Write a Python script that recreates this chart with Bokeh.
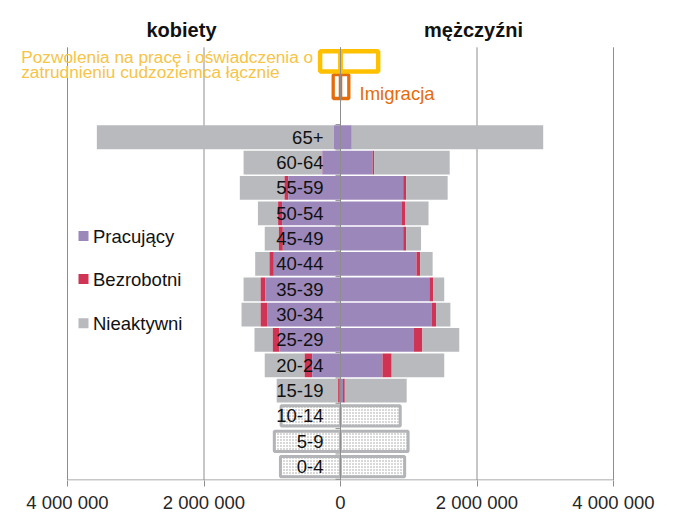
from bokeh.plotting import figure
from bokeh.models import FixedTicker, Range1d
from bokeh.core.properties import value
from bokeh.embed import file_html
from bokeh.resources import INLINE

# ---------------- data ----------------
ages = ["0-4", "5-9", "10-14", "15-19", "20-24", "25-29", "30-34", "35-39",
        "40-44", "45-49", "50-54", "55-59", "60-64", "65+"]

# women (kobiety)
women_prac = [0, 0, 0, 10000, 415000, 893000, 1076000, 1098000, 977000, 845000, 856000, 766000, 265000, 100000]
women_bezr = [0, 0, 0, 25000, 110000, 99000, 94000, 72000, 63000, 58000, 58000, 54000, 5000, 0]
women_niea = [0, 0, 0, 900000, 585000, 268000, 280000, 250000, 210000, 207000, 296000, 655000, 1150000, 3470000]
# men (mężczyźni)
men_prac = [0, 0, 0, 37000, 615000, 1077000, 1333000, 1302000, 1113000, 919000, 893000, 919000, 470000, 160000]
men_bezr = [0, 0, 0, 26000, 135000, 123000, 67000, 58000, 53000, 42000, 52000, 42000, 22000, 5000]
men_niea = [0, 0, 0, 907000, 770000, 540000, 210000, 160000, 184000, 219000, 345000, 609000, 1108000, 2805000]

# children (dotted bars)
child_ages = ["0-4", "5-9", "10-14"]
women_child = [880000, 970000, 870000]
men_child = [940000, 990000, 875000]

# immigration & work permits
imm_women, imm_men = 107000, 122000
perm_women, perm_men = 299000, 552000

legend_labels = ["Pracujący", "Bezrobotni", "Nieaktywni"]
titles = ["kobiety", "mężczyźni"]
perm_label = ["Pozwolenia na pracę i oświadczenia o", "zatrudnieniu cudzoziemca łącznie"]
imm_label = "Imigracja"

ticks = [-4000000, -2000000, 0, 2000000, 4000000]
tick_labels = ["4 000 000", "2 000 000", "0", "2 000 000", "4 000 000"]

# ---------------- styles ----------------
C_PRAC = "#9C87BA"
C_BEZR = "#CF3455"
C_NIEA = "#B8BABD"
C_GRID = "#8E8E8E"
C_PERM = "#FFC000"
C_PERM_TXT = "#F6C447"
C_IMM = "#E46C0A"
FONT = value("Liberation Sans")

W, H = 660, 515
PX = 2000000 / 136.5      # data units per pixel (horizontal)
ROW = 25.6                # pixels per category row


def xd(px):
    return (px - 340) * PX


def yd(py):
    return (471 - py) / ROW


n = len(ages)
rows = list(range(n))
row_imm = n + 1
row_perm = n + 2

p = figure(width=W, height=H, output_backend="svg", toolbar_location=None,
           x_range=Range1d(xd(0), xd(W)), y_range=Range1d(yd(485), yd(0)),
           min_border_left=0, min_border_right=0, min_border_top=0, min_border_bottom=30,
           y_axis_location=None)
p.outline_line_color = None
p.grid.visible = False
p.background_fill_color = "white"
p.border_fill_color = "white"

# x axis
ax = p.xaxis[0]
ax.ticker = FixedTicker(ticks=ticks)
ax.major_label_overrides = {t: l for t, l in zip(ticks, tick_labels)}
ax.axis_line_color = None
ax.major_tick_line_color = C_GRID
ax.major_tick_out = 6
ax.major_tick_in = 0
ax.minor_tick_line_color = None
ax.major_label_standoff = 5
ax.major_label_text_font = "Liberation Sans"
ax.major_label_text_font_size = "18.5px"
ax.major_label_text_color = "#262626"

# gridlines (manual, limited height) and axis line
grid_top = row_perm + 0.55
y_bot = yd(484.5)
p.segment(x0=ticks, x1=ticks, y0=[y_bot] * len(ticks), y1=[grid_top] * len(ticks),
          line_color=C_GRID, line_width=1)
p.segment(x0=[ticks[0]], x1=[ticks[-1]], y0=[y_bot], y1=[y_bot], line_color=C_GRID, line_width=1)

# stacked bars
BH = 0.94
wp = women_prac
wb = [a + b for a, b in zip(women_prac, women_bezr)]
wn = [a + b for a, b in zip(wb, women_niea)]
mp = men_prac
mb = [a + b for a, b in zip(men_prac, men_bezr)]
mn = [a + b for a, b in zip(mb, men_niea)]

p.hbar(y=rows, left=[-v for v in wn], right=[-v for v in wb], height=BH, fill_color=C_NIEA, line_color=None)
p.hbar(y=rows, left=[-v for v in wb], right=[-v for v in wp], height=BH, fill_color=C_BEZR, line_color=None)
p.hbar(y=rows, left=[-v for v in wp], right=[0] * n, height=BH, fill_color=C_PRAC, line_color=None)
p.hbar(y=rows, left=[0] * n, right=mp, height=BH, fill_color=C_PRAC, line_color=None)
p.hbar(y=rows, left=mp, right=mb, height=BH, fill_color=C_BEZR, line_color=None)
p.hbar(y=rows, left=mb, right=mn, height=BH, fill_color=C_NIEA, line_color=None)

# children dotted bars
child_rows = [ages.index(a) for a in child_ages]
for side, vals in ((-1, women_child), (1, men_child)):
    left = [min(0, side * v) for v in vals]
    right = [max(0, side * v) for v in vals]
    p.hbar(y=child_rows, left=left, right=right, height=0.8,
           fill_color="white", line_color="#B2B4B7", line_width=3,
           hatch_pattern="dot", hatch_color="#9C9C9C", hatch_scale=3, hatch_weight=1.2)

# immigration & permits boxes
p.hbar(y=[row_imm, row_imm], left=[-imm_women, 0], right=[0, imm_men], height=0.94,
       fill_color=None, line_color=C_IMM, line_width=3.3)
p.hbar(y=[row_perm, row_perm], left=[-perm_women, 0], right=[0, perm_men], height=0.8,
       fill_color=None, line_color=C_PERM, line_width=4.5)

# central axis line with small ticks
p.segment(x0=[0], x1=[0], y0=[y_bot], y1=[grid_top], line_color=C_GRID, line_width=1)
tick_y = [r - 0.5 for r in rows] + [n - 0.5]
p.segment(x0=[-5 * PX] * len(tick_y), x1=[0] * len(tick_y), y0=tick_y, y1=tick_y,
          line_color=C_GRID, line_width=1)

# category labels
p.text(x=[0] * n, y=rows, text=ages, x_offset=-17, text_align="right", text_baseline="middle",
       text_font=FONT, text_font_size="18.5px", text_color="#111111")

# titles
p.text(x=[xd(181), xd(473)], y=[yd(29.5)] * 2, text=titles, text_align="center",
       text_baseline="alphabetic", text_font=FONT, text_font_size="20px",
       text_font_style="bold", text_color="#111111")

# permits label
p.text(x=[xd(20.7)] * 2, y=[yd(56.7), yd(72.3)], text=perm_label, text_align="left",
       text_baseline="alphabetic", text_font=FONT, text_font_size="17.3px", text_color=C_PERM_TXT)

# immigration label
p.text(x=[xd(359)], y=[yd(93.5)], text=[imm_label], text_align="left",
       text_baseline="alphabetic", text_font=FONT, text_font_size="18.5px", text_color=C_IMM)

# legend
leg_y = [yd(238), yd(281.5), yd(326)]
p.scatter(x=[xd(83)] * 3, y=leg_y, marker="square", size=10,
          fill_color=[C_PRAC, C_BEZR, C_NIEA], line_color=None)
p.text(x=[xd(92.5)] * 3, y=leg_y, text=legend_labels, text_align="left", text_baseline="middle",
       text_font=FONT, text_font_size="18.5px", text_color="#111111")

open("out.html", "w").write(file_html(p, INLINE))
